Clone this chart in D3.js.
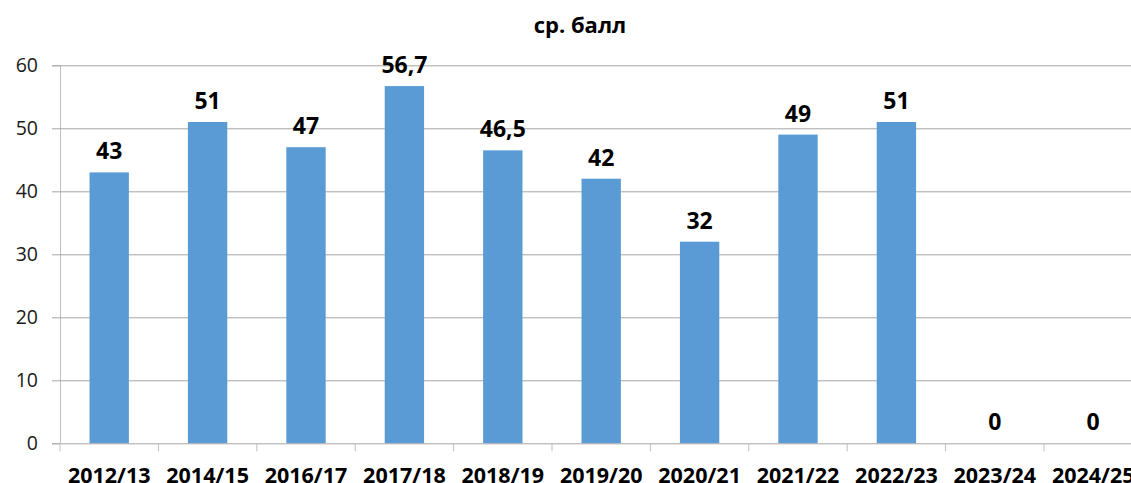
<!DOCTYPE html>
<html>
<head>
<meta charset="utf-8">
<script src="https://cdn.jsdelivr.net/npm/d3@7"></script>
<style>
  html, body { margin: 0; padding: 0; background: #fff; overflow: hidden; }
  svg { display: block; font-family: "Open Sans", sans-serif; }
</style>
</head>
<body>
<svg id="chart" width="1131" height="483"></svg>
<script>
// Average score per school year
const years = ["2012/13", "2014/15", "2016/17", "2017/18", "2018/19", "2019/20",
               "2020/21", "2021/22", "2022/23", "2023/24", "2024/25"];
const scores = [43, 51, 47, 56.7, 46.5, 42, 32, 49, 51, 0, 0];
const yTicks = [0, 10, 20, 30, 40, 50, 60];
const title = "ср. балл";

const svg = d3.select("#chart");
const plotLeft = 60, plotTop = 65.3, plotBottom = 443.3, step = 98.4;
const plotRight = plotLeft + step * years.length;
const font = "'Open Sans', sans-serif";

const x = d3.scaleBand().domain(years).range([plotLeft, plotRight]).paddingInner(0.6).paddingOuter(0.3);
const y = d3.scaleLinear().domain([0, 60]).range([plotBottom, plotTop]);

const fmt = v => String(v).replace(".", ",");

// Gridlines and y labels
const yAxis = d3.axisLeft(y).tickValues(yTicks).tickSize(8).tickPadding(14);
const gy = svg.append("g").attr("transform", `translate(${plotLeft},0)`).call(yAxis);
gy.select(".domain").attr("stroke", "#bfbfbf");
gy.selectAll(".tick line").attr("stroke", "#a6a6a6");
gy.selectAll(".tick text").attr("font-size", 19.5).attr("fill", "#1a1a1a").attr("font-family", font);
gy.selectAll(".tick").filter(d => d > 0).append("line")
  .attr("x1", 0).attr("x2", plotRight - plotLeft).attr("stroke", "#a6a6a6").attr("stroke-width", 1);

// Bars
svg.append("g").selectAll("rect").data(years).join("rect")
  .attr("x", d => x(d))
  .attr("width", x.bandwidth())
  .attr("y", (d, i) => y(scores[i]))
  .attr("height", (d, i) => plotBottom - y(scores[i]))
  .attr("fill", "#5b9bd5");

// X axis
const xAxis = d3.axisBottom(x).tickSize(0).tickPadding(24.5);
const gx = svg.append("g").attr("transform", `translate(0,${plotBottom})`).call(xAxis);
gx.select(".domain").attr("stroke", "#a6a6a6");
gx.selectAll(".tick text").attr("font-size", 21.5).attr("font-weight", "bold").attr("fill", "#000")
  .attr("font-family", font);
gx.selectAll(".bound").data(d3.range(years.length + 1)).join("line")
  .attr("x1", i => plotLeft + i * step).attr("x2", i => plotLeft + i * step)
  .attr("y1", 0).attr("y2", 8).attr("stroke", "#bfbfbf");

// Value labels
svg.append("g").selectAll("text").data(years).join("text")
  .attr("x", d => x(d) + x.bandwidth() / 2)
  .attr("y", (d, i) => y(scores[i]) - 13)
  .attr("text-anchor", "middle")
  .attr("font-size", 23).attr("font-weight", "bold").attr("fill", "#000").attr("font-family", font)
  .text((d, i) => fmt(scores[i]));

// Title
svg.append("text").attr("x", 580).attr("y", 33).attr("text-anchor", "middle")
  .attr("font-size", 22).attr("font-weight", "bold").attr("fill", "#000").attr("font-family", font)
  .text(title);
</script>
</body>
</html>
